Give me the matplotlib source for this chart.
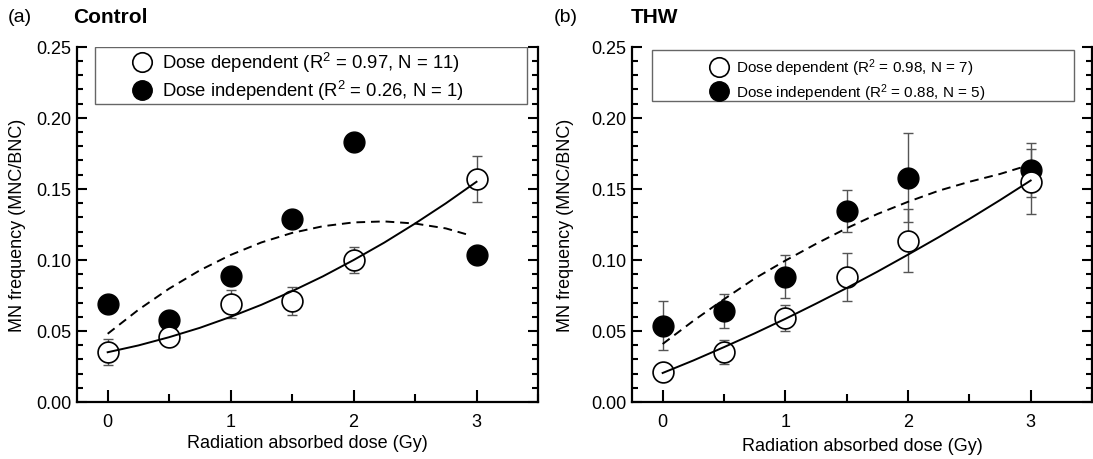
import matplotlib
matplotlib.use("Agg")
from matplotlib import pyplot as plt
from matplotlib.lines import Line2D
from matplotlib.patches import Rectangle
from matplotlib.ticker import MultipleLocator

plt.rcParams["font.family"] = ["Liberation Sans", "DejaVu Sans"]
plt.rcParams["mathtext.default"] = "regular"

# ---- data ----
dose = [0, 0.5, 1, 1.5, 2, 3]
fit_x = [0, 0.25, 0.5, 0.75, 1, 1.25, 1.5, 1.75, 2, 2.25, 2.5, 2.75, 3]

# (a) Control
ctrl_dep = [0.035, 0.046, 0.069, 0.071, 0.100, 0.157]
ctrl_dep_err = [0.009, 0.004, 0.010, 0.010, 0.009, 0.016]
ctrl_ind = [0.069, 0.058, 0.089, 0.129, 0.183, 0.1035]
ctrl_dep_fit = [0.035, 0.0398, 0.0456, 0.0522, 0.0599, 0.0684, 0.0780,
                0.0884, 0.0999, 0.1122, 0.1256, 0.1398, 0.155]
ctrl_ind_fit = [0.048, 0.0649, 0.0798, 0.0927, 0.1035, 0.1123, 0.1190,
                0.1237, 0.1264, 0.1271, 0.1256, 0.1222, 0.1180]

# (b) THW
thw_dep = [0.0214, 0.0354, 0.059, 0.0878, 0.1136, 0.155]
thw_dep_err = [0.005, 0.0085, 0.009, 0.017, 0.022, 0.023]
thw_ind = [0.0538, 0.0638, 0.0883, 0.1345, 0.158, 0.163]
thw_ind_err = [0.0175, 0.012, 0.015, 0.0145, 0.031, 0.019]
thw_dep_fit = [0.0204, 0.0292, 0.0386, 0.0483, 0.0585, 0.0692, 0.0802,
               0.0917, 0.1037, 0.1160, 0.1288, 0.1421, 0.1559]
thw_ind_fit = [0.0408, 0.0571, 0.0723, 0.0869, 0.0995, 0.1113, 0.1223,
               0.1323, 0.1409, 0.1487, 0.1550, 0.1605, 0.1650]

panels = [
    dict(tag="(a)", title="Control", dep=ctrl_dep, dep_err=ctrl_dep_err,
         ind=ctrl_ind, ind_err=None, dep_fit=ctrl_dep_fit, ind_fit=ctrl_ind_fit,
         labels=["Dose dependent (R$^2$ = 0.97, N = 11)",
                 "Dose independent (R$^2$ = 0.26, N = 1)"],
         pos=[0.0704, 0.124, 0.4218, 0.772], legsize=13.3,
         box=(0.039, 0.839, 0.938, 0.161), legc=(0.480, 0.917),
         tagx=0.0073, titlex=0.0668, ylab=-0.111, xlab=-0.090),
    dict(tag="(b)", title="THW", dep=thw_dep, dep_err=thw_dep_err,
         ind=thw_ind, ind_err=thw_ind_err, dep_fit=thw_dep_fit, ind_fit=thw_ind_fit,
         labels=["Dose dependent (R$^2$ = 0.98, N = 7)",
                 "Dose independent (R$^2$ = 0.88, N = 5)"],
         pos=[0.5782, 0.124, 0.4209, 0.772], legsize=11,
         box=(0.0435, 0.848, 0.9165, 0.1435), legc=(0.471, 0.908),
         tagx=0.5069, titlex=0.5773, ylab=-0.126, xlab=-0.100),
]

fig = plt.figure(figsize=(10.93, 4.6), dpi=100)

for p in panels:
    ax = fig.add_axes(p["pos"])
    ecol = "#555555"
    ax.errorbar(dose, p["dep"], yerr=p["dep_err"], fmt="none", ecolor=ecol,
                elinewidth=1, capsize=3.5, capthick=1, zorder=2)
    if p["ind_err"] is not None:
        ax.errorbar(dose, p["ind"], yerr=p["ind_err"], fmt="none", ecolor=ecol,
                    elinewidth=1, capsize=3.5, capthick=1, zorder=2)
    ax.plot(dose, p["ind"], "o", ms=15, mfc="black", mec="black", zorder=3)
    ax.plot(dose, p["dep"], "o", ms=15, mfc="white", mec="black", mew=1.2, zorder=3)
    ax.plot(fit_x, p["dep_fit"], "-", color="black", lw=1.4, zorder=4)
    ln, = ax.plot(fit_x[:-1] + [2.92], p["ind_fit"], "--", color="black",
                  lw=1.4, zorder=4)
    ln.set_dashes([4.5, 3])

    ax.set_xlim(-0.25, 3.5)
    ax.set_ylim(0, 0.25)
    ax.xaxis.set_major_locator(MultipleLocator(1))
    ax.xaxis.set_minor_locator(MultipleLocator(0.5))
    ax.yaxis.set_major_locator(MultipleLocator(0.05))
    ax.yaxis.set_minor_locator(MultipleLocator(0.01))
    ax.yaxis.set_major_formatter(plt.FormatStrFormatter("%.2f"))
    ax.spines["top"].set_visible(False)
    for s in ["left", "right", "bottom"]:
        ax.spines[s].set_linewidth(1.6)
    ax.tick_params(axis="both", which="both", direction="in", width=1.5,
                   labelsize=13, right=True)
    ax.tick_params(axis="y", which="major", length=7, pad=4)
    ax.tick_params(axis="y", which="minor", length=4)
    ax.tick_params(axis="x", which="major", length=9, pad=8)
    ax.tick_params(axis="x", which="minor", length=6)
    ax.set_xlabel("Radiation absorbed dose (Gy)", fontsize=13)
    ax.set_ylabel("MN frequency (MNC/BNC)", fontsize=13)
    ax.xaxis.set_label_coords(0.5, p["xlab"])
    ax.yaxis.set_label_coords(p["ylab"], 0.5)

    ax.add_patch(Rectangle(p["box"][:2], p["box"][2], p["box"][3],
                           transform=ax.transAxes, fill=False,
                           edgecolor="#666666", lw=1.0, zorder=5))
    handles = [Line2D([], [], ls="none", marker="o", ms=14, mfc="white",
                      mec="black", mew=1.2),
               Line2D([], [], ls="none", marker="o", ms=14, mfc="black",
                      mec="black")]
    ax.legend(handles, p["labels"], loc="center", bbox_to_anchor=p["legc"],
              frameon=False, fontsize=p["legsize"], handlelength=1.0,
              handletextpad=0.6, labelspacing=0.2, borderpad=0)

    fig.text(p["tagx"], 0.961, p["tag"], fontsize=14, va="center")
    fig.text(p["titlex"], 0.961, p["title"], fontsize=15, fontweight="bold",
             va="center")

fig.savefig("out.png", dpi=100)
